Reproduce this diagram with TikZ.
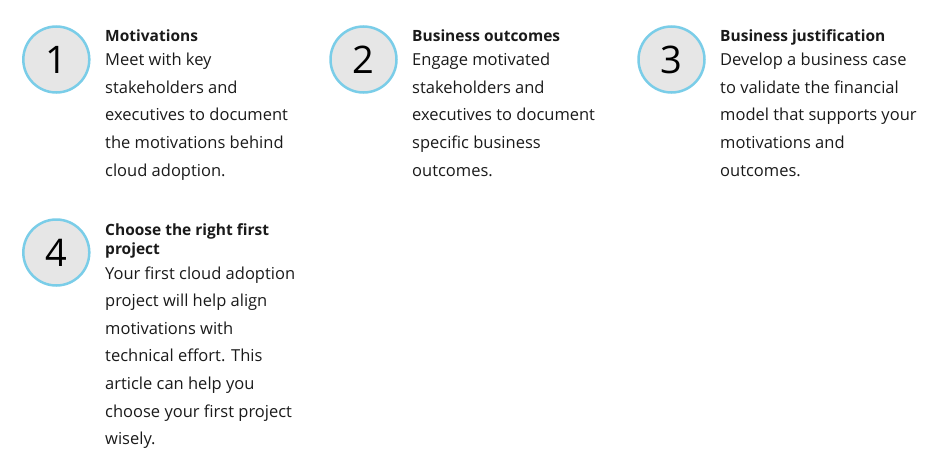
\documentclass[tikz,border=0pt]{standalone}
\usepackage{fontspec}
\setmainfont{Open Sans}
\definecolor{ringblue}{HTML}{7ACDE8}
\definecolor{ringfill}{HTML}{E6E6E6}
\definecolor{txt}{HTML}{1A1A1A}
\newcommand{\steplines}[1]{\begin{tabular}[t]{@{}l@{}}#1\end{tabular}}
\tikzset{
  stepcircle/.style={circle, draw=ringblue, fill=ringfill, line width=2.5pt, minimum size=66pt, inner sep=0pt, font=\fontsize{38}{38}\selectfont, text=black},
  steptitle/.style={anchor=base west, inner sep=0pt, font=\fontsize{15.5}{19}\selectfont\bfseries, text=txt},
  stepbody/.style={anchor=base west, inner sep=0pt, font=\fontsize{16.5}{27.6}\selectfont, text=txt},
}
\begin{document}
\begin{tikzpicture}[x=1pt,y=-1pt]
\useasboundingbox (0,0) rectangle (945,466);
% step 1
\node[stepcircle] (c1) at (56.3,59.5) {1};
\node[steptitle] (t1) at (105,41) {Motivations};
\node[stepbody] (b1) at (105,65.7) {\steplines{Meet with key\\stakeholders and\\executives to document\\the motivations behind\\cloud adoption.}};
% step 2
\node[stepcircle] (c2) at (363.5,59.5) {2};
\node[steptitle] (t2) at (412,41) {Business outcomes};
\node[stepbody] (b2) at (412,65.7) {\steplines{Engage motivated\\stakeholders and\\executives to document\\specific business\\outcomes.}};
% step 3
\node[stepcircle] (c3) at (671.5,59.5) {3};
\node[steptitle] (t3) at (720,41) {Business justification};
\node[stepbody] (b3) at (720,65.7) {\steplines{Develop a business case\\to validate the financial\\model that supports your\\motivations and\\outcomes.}};
% step 4
\node[stepcircle] (c4) at (56.3,252.5) {4};
\node[steptitle] (t4) at (105,235) {\steplines{Choose the right first\\project}};
\node[stepbody] (b4) at (105,279) {\steplines{Your first cloud adoption\\project will help align\\motivations with\\technical effort. This\\article can help you\\choose your first project\\wisely.}};
\end{tikzpicture}
\end{document}
